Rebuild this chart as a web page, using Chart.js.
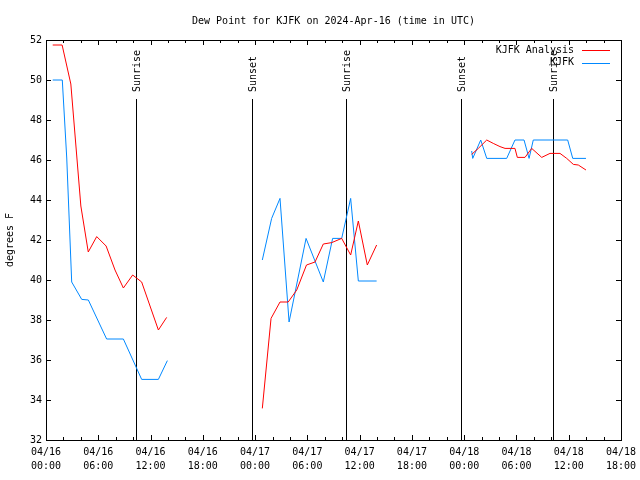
<!DOCTYPE html>
<html>
<head>
<meta charset="utf-8">
<title>Dew Point KJFK</title>
<script src="https://cdn.jsdelivr.net/npm/chart.js@4.4.1/dist/chart.umd.min.js"></script>
<style>
  html, body { margin: 0; padding: 0; background: #ffffff; }
  #wrap { width: 640px; height: 480px; }
</style>
</head>
<body>
<div id="wrap"><canvas id="dewpt_line"></canvas></div>
<script>
// hours since 04/16 00:00 UTC, null = gap in the record
const analysisHours = [
  0.77, 1.85, 2.85, 4.0, 4.85, 5.82, 6.9, 7.92, 8.88, 9.95, 10.98, 12.9, 13.85,
  19,
  24.83, 25.83, 26.86, 27.8, 28.78, 29.9, 30.88, 31.83, 32.8, 33.94, 34.97, 35.85, 36.88, 37.95,
  43,
  48.86, 49.62, 50.59, 51.34, 52.11, 52.69, 53.83, 54.1, 54.98, 55.75, 56.9, 57.85, 59.0, 59.77, 60.53, 61.1, 61.98,
];
const analysisDewpt = [
  51.75, 51.75, 49.8, 43.7, 41.4, 42.17, 41.7, 40.5, 39.6, 40.25, 39.9, 37.5, 38.13,
  null,
  33.58, 38.08, 38.9, 38.9, 39.5, 40.75, 40.9, 41.8, 41.87, 42.08, 41.25, 42.95, 40.75, 41.75,
  null,
  46.28, 46.58, 47.0, 46.83, 46.67, 46.58, 46.58, 46.13, 46.13, 46.58, 46.13, 46.33, 46.33, 46.08, 45.78, 45.75, 45.5,
];

const obsHours = [
  0.77, 1.87, 2.38, 2.95, 4.1, 4.86, 6.96, 8.88, 10.98, 12.9, 13.93,
  19,
  24.83, 25.9, 26.86, 27.9, 29.85, 31.83, 32.9, 33.94, 34.97, 35.85, 37.95,
  43,
  48.86, 48.98, 49.9, 50.59, 52.88, 53.83, 54.87, 55.45, 55.93, 59.88, 60.46, 61.98,
];
const obsDewpt = [
  50.0, 50.0, 46.1, 39.9, 39.03, 39.0, 37.05, 37.05, 35.03, 35.03, 35.97,
  null,
  41.0, 43.08, 44.08, 37.9, 42.08, 39.9, 42.08, 42.08, 44.08, 39.95, 39.95,
  null,
  46.45, 46.08, 47.0, 46.08, 46.08, 47.0, 47.0, 46.08, 47.0, 47.0, 46.08, 46.08,
];

const sunHours = [10.37, 23.61, 34.4, 47.6, 58.23];
const sunLabels = ["Sunrise", "Sunset", "Sunrise", "Sunset", "Sunrise"];

const labelHours = [0, 6, 12, 18, 24, 30, 36, 42, 48, 54, 60, 66];
const xTickLabels = [
  ["04/16", "00:00"], ["04/16", "06:00"], ["04/16", "12:00"], ["04/16", "18:00"],
  ["04/17", "00:00"], ["04/17", "06:00"], ["04/17", "12:00"], ["04/17", "18:00"],
  ["04/18", "00:00"], ["04/18", "06:00"], ["04/18", "12:00"], ["04/18", "18:00"],
];

const FONT = "DejaVu Sans Mono";

const toPoints = (hours, values) =>
  hours.map((h, i) => ({ x: h, y: values[i] }));

// gnuplot look: framed box, inward ticks, sunrise/sunset markers, key
const gnuplotBits = {
  id: "gnuplotBits",
  beforeDatasetsDraw(chart) {
    const { ctx, chartArea, scales } = chart;
    ctx.save();
    ctx.strokeStyle = "#000";
    ctx.lineWidth = 1;
    ctx.fillStyle = "#000";
    ctx.font = "10px " + FONT;
    sunHours.forEach((h, i) => {
      const x = Math.round(scales.x.getPixelForValue(h)) + 0.5;
      ctx.beginPath();
      ctx.moveTo(x, chartArea.top + 59);
      ctx.lineTo(x, chartArea.bottom);
      ctx.stroke();

      ctx.save();
      ctx.translate(x + 1, chartArea.top + 52);
      ctx.rotate(-Math.PI / 2);
      ctx.textAlign = "left";
      ctx.textBaseline = "middle";
      ctx.fillText(sunLabels[i], 0, 0);
      ctx.restore();
    });
    ctx.restore();
  },
  afterDatasetsDraw(chart) {
    const { ctx, chartArea, scales } = chart;
    const { left, right, top, bottom } = chartArea;
    ctx.save();
    ctx.strokeStyle = "#000";
    ctx.lineWidth = 1;

    ctx.beginPath();
    scales.x.ticks.forEach((t) => {
      const x = Math.round(scales.x.getPixelForValue(t.value)) + 0.5;
      const len = t.value % 6 === 0 ? 5 : 3;
      ctx.moveTo(x, bottom);
      ctx.lineTo(x, bottom - len);
      ctx.moveTo(x, top);
      ctx.lineTo(x, top + len);
    });
    scales.y.ticks.forEach((t) => {
      const y = Math.round(scales.y.getPixelForValue(t.value)) + 0.5;
      ctx.moveTo(left, y);
      ctx.lineTo(left + 5, y);
      ctx.moveTo(right, y);
      ctx.lineTo(right - 5, y);
    });
    ctx.stroke();

    ctx.strokeRect(Math.round(left) + 0.5, Math.round(top) + 0.5,
      Math.round(right - left), Math.round(bottom - top));

    // key, top right
    ctx.font = "10px " + FONT;
    ctx.textAlign = "right";
    ctx.textBaseline = "middle";
    chart.data.datasets.forEach((ds, i) => {
      const y = top + 10 + i * 12.5;
      ctx.fillStyle = "#000";
      ctx.fillText(ds.label, right - 47, y);
      ctx.strokeStyle = ds.borderColor;
      ctx.beginPath();
      ctx.moveTo(right - 39, Math.round(y) + 0.5);
      ctx.lineTo(right - 11, Math.round(y) + 0.5);
      ctx.stroke();
    });
    ctx.restore();
  },
};

new Chart(document.getElementById("dewpt_line"), {
  type: "line",
  data: {
    datasets: [
      {
        label: "KJFK Analysis",
        data: toPoints(analysisHours, analysisDewpt),
        borderColor: "#ff0000",
        borderWidth: 1,
        pointRadius: 0,
        tension: 0,
        spanGaps: false,
      },
      {
        label: "KJFK",
        data: toPoints(obsHours, obsDewpt),
        borderColor: "rgb(0, 136, 255)",
        borderWidth: 1,
        pointRadius: 0,
        tension: 0,
        spanGaps: false,
      },
    ],
  },
  options: {
    responsive: true,
    maintainAspectRatio: false,
    animation: false,
    devicePixelRatio: 1,
    layout: { padding: { left: 0, right: 19, top: 0, bottom: 0 } },
    scales: {
      x: {
        type: "linear",
        min: 0,
        max: 66,
        afterFit: (scale) => {
          scale.height = 40;
          scale.paddingLeft = 0;
          scale.paddingRight = 0;
        },
        grid: { display: false, drawTicks: false },
        border: { display: false },
        ticks: {
          stepSize: 2,
          autoSkip: false,
          maxRotation: 0,
          padding: 6,
          color: "#000",
          font: { family: FONT, size: 10, lineHeight: 1.35 },
          callback: (v) => {
            const i = labelHours.indexOf(v);
            return i >= 0 ? xTickLabels[i] : "";
          },
        },
      },
      y: {
        min: 32,
        max: 52,
        afterFit: (scale) => {
          scale.width = 46;
          scale.paddingTop = 0;
          scale.paddingBottom = 0;
        },
        grid: { display: false, drawTicks: false },
        border: { display: false },
        title: {
          display: true,
          text: "degrees F",
          color: "#000",
          font: { family: FONT, size: 10 },
          padding: { top: 4, bottom: 0 },
        },
        ticks: {
          stepSize: 2,
          padding: 4,
          color: "#000",
          font: { family: FONT, size: 10 },
        },
      },
    },
    plugins: {
      legend: { display: false },
      tooltip: { enabled: false },
      title: {
        display: true,
        fullSize: false,
        text: "Dew Point for KJFK on 2024-Apr-16 (time in UTC)",
        color: "#000",
        font: { family: FONT, size: 10, weight: "normal", lineHeight: 1.2 },
        padding: { top: 15, bottom: 13 },
      },
    },
  },
  plugins: [gnuplotBits],
});
</script>
</body>
</html>
